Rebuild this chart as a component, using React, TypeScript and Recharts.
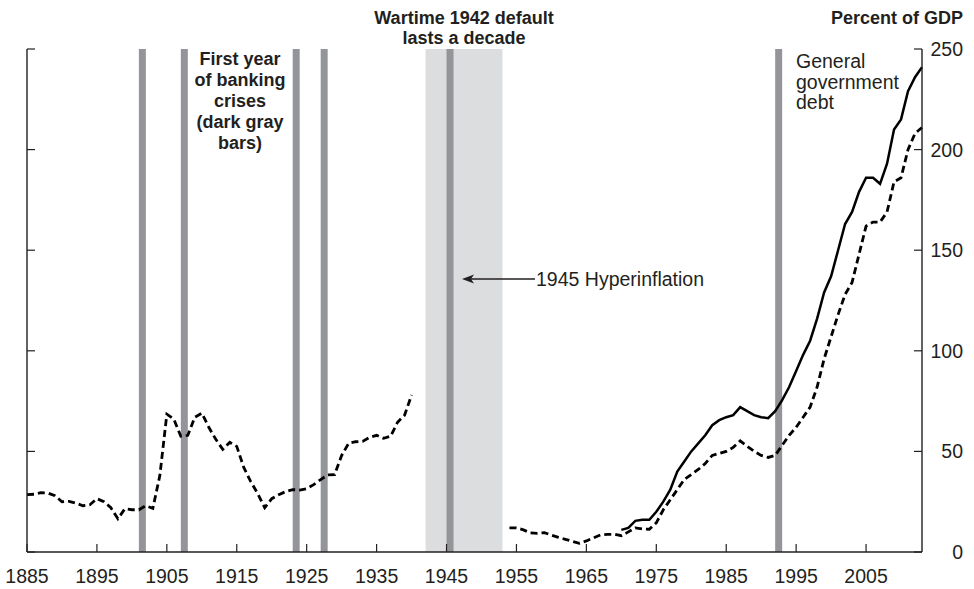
import React from 'react';
import { ComposedChart, Line, XAxis, YAxis, ReferenceArea } from 'recharts';

// Central government debt, 1885-1940 (percent of GDP)
const centralPreWarStart = 1885;
const centralPreWar = [
  28.5, 28.7, 29.5, 29.3, 28.0, 25.0, 25.2, 24.3, 23.0, 23.5,
  26.5, 25.0, 22.0, 16.5, 21.5, 21.0, 21.0, 23.0, 21.7, 38.0,
  68.5, 66.0, 57.5, 58.0, 67.0, 69.0, 62.0, 56.0, 51.0, 54.5,
  52.5, 42.0, 35.0, 29.0, 22.0, 26.5, 28.5, 30.0, 31.0, 30.8,
  31.5, 33.5, 36.0, 38.3, 38.5, 48.0, 54.0, 54.8, 55.0, 57.0,
  58.0, 56.5, 57.5, 64.5, 68.0, 78.0,
];

// Central government debt, 1954-2013
const centralPostWarStart = 1954;
const centralPostWar = [
  12, 12, 11, 9.5, 9.3, 9.6, 8.4, 7.3, 6.3, 5.3,
  4.3, 5.5, 7, 8.5, 8.8, 8.8, 8.1, 10, 12, 11.5,
  11.3, 14.5, 21, 26, 31, 36, 38.5, 41, 44, 48,
  49, 50, 52, 55.2, 52.5, 50, 48, 47, 48, 53,
  58, 62, 67, 72, 82, 96, 107, 118, 128, 134,
  148, 162, 164, 164, 169, 184, 186, 200, 208, 211,
];

// General government debt, 1970-2013
const generalGovStart = 1970;
const generalGov = [
  11, 12, 15.5, 16, 16, 20, 25, 31, 40, 45,
  50, 54, 58, 63, 65.5, 67, 68, 72, 70, 68,
  67, 66.5, 70, 75.5, 82, 90, 98, 105, 116, 129,
  137, 150, 163, 169, 179, 186, 186, 183, 193, 210,
  215, 229, 236, 241,
];

const xTicks = [1885, 1895, 1905, 1915, 1925, 1935, 1945, 1955, 1965, 1975, 1985, 1995, 2005];
const yTicks = [0, 50, 100, 150, 200, 250];
const bankingCrisisYears = [1901, 1907, 1923, 1927, 1945, 1992];
const wartimeDefault = [1942, 1953];
const firstYear = 1885;
const lastYear = 2013;

const data: { year: number; central: number | null; general: number | null }[] = [];
for (let y = firstYear; y <= lastYear; y++) {
  let central: number | null = null;
  if (y - centralPreWarStart >= 0 && y - centralPreWarStart < centralPreWar.length) central = centralPreWar[y - centralPreWarStart];
  if (y - centralPostWarStart >= 0 && y - centralPostWarStart < centralPostWar.length) central = centralPostWar[y - centralPostWarStart];
  let general: number | null = null;
  if (y - generalGovStart >= 0 && y - generalGovStart < generalGov.length) general = generalGov[y - generalGovStart];
  data.push({ year: y, central, general });
}

const FONT = '"Liberation Sans", Arial, sans-serif';
const INK = '#231f20';
const DARK = '#939598';
const LIGHT = '#dcdddf';

const XTick = (props: any) => {
  const { x, y, payload } = props;
  return (
    <g>
      <line x1={x} x2={x} y1={y} y2={y - 8} stroke={INK} strokeWidth={1.2} />
      <text x={x} y={y + 31} textAnchor="middle" fontFamily={FONT} fontSize={19.5} fill={INK}>
        {payload.value}
      </text>
    </g>
  );
};

const LeftTick = (props: any) => {
  const { x, y } = props;
  return <line x1={x} x2={x + 8} y1={y} y2={y} stroke={INK} strokeWidth={1.2} />;
};

const RightTick = (props: any) => {
  const { x, y, payload } = props;
  return (
    <g>
      <line x1={x} x2={x - 8} y1={y} y2={y} stroke={INK} strokeWidth={1.2} />
      <text x={x + 41} y={y + 7} textAnchor="end" fontFamily={FONT} fontSize={19.5} fill={INK}>
        {payload.value}
      </text>
    </g>
  );
};

const Annotations = () => (
  <svg
    width={974}
    height={589}
    style={{ position: 'absolute', left: 0, top: 0, pointerEvents: 'none' }}
  >
    <g fontFamily={FONT} fill={INK}>
      <text x={464} y={24} textAnchor="middle" fontSize={18} fontWeight="bold">Wartime 1942 default</text>
      <text x={464} y={44} textAnchor="middle" fontSize={18} fontWeight="bold">lasts a decade</text>
      <text x={963} y={24} textAnchor="end" fontSize={18} fontWeight="bold">Percent of GDP</text>
      <text x={240} y={65} textAnchor="middle" fontSize={18} fontWeight="bold">First year</text>
      <text x={240} y={86} textAnchor="middle" fontSize={18} fontWeight="bold">of banking</text>
      <text x={240} y={107} textAnchor="middle" fontSize={18} fontWeight="bold">crises</text>
      <text x={240} y={128} textAnchor="middle" fontSize={18} fontWeight="bold">(dark gray</text>
      <text x={240} y={149} textAnchor="middle" fontSize={18} fontWeight="bold">bars)</text>
      <text x={796} y={68} fontSize={19.5}>General</text>
      <text x={796} y={88.5} fontSize={19.5}>government</text>
      <text x={796} y={109} fontSize={19.5}>debt</text>
      <line x1={470} x2={535} y1={279} y2={279} stroke={INK} strokeWidth={1.3} />
      <path d="M462,279 L474,274.5 L471,279 L474,283.5 Z" fill={INK} />
      <text x={536} y={286} fontSize={19.5}>1945 Hyperinflation</text>
    </g>
  </svg>
);

export default function App() {
  return (
    <div style={{ position: 'absolute', left: 0, top: 0, width: 974, height: 589 }}>
      <ComposedChart
        width={974}
        height={589}
        data={data}
        margin={{ top: 49, right: 51, bottom: 36, left: 26 }}
      >
        <ReferenceArea
          yAxisId="left"
          x1={wartimeDefault[0]}
          x2={wartimeDefault[1]}
          y1={0}
          y2={250}
          fill={LIGHT}
          fillOpacity={1}
          stroke="none"
        />
        {bankingCrisisYears.map((yr) => (
          <ReferenceArea
            key={yr}
            yAxisId="left"
            x1={yr}
            x2={yr + 1}
            y1={0}
            y2={250}
            fill={DARK}
            fillOpacity={1}
            stroke="none"
          />
        ))}
        <XAxis
          dataKey="year"
          type="number"
          domain={[firstYear, lastYear]}
          ticks={xTicks}
          height={1}
          tickSize={0}
          tickMargin={0}
          tickLine={false}
          tick={<XTick />}
          axisLine={{ stroke: INK, strokeWidth: 1.4 }}
          interval={0}
        />
        <YAxis
          yAxisId="left"
          orientation="left"
          domain={[0, 250]}
          ticks={yTicks}
          width={1}
          tickSize={0}
          tickMargin={0}
          tickLine={false}
          tick={<LeftTick />}
          axisLine={{ stroke: INK, strokeWidth: 1.4 }}
          interval={0}
        />
        <YAxis
          yAxisId="right"
          orientation="right"
          domain={[0, 250]}
          ticks={yTicks}
          width={1}
          tickSize={0}
          tickMargin={0}
          tickLine={false}
          tick={<RightTick />}
          axisLine={{ stroke: INK, strokeWidth: 1.4 }}
          interval={0}
        />
        <Line
          yAxisId="left"
          dataKey="central"
          stroke="#000"
          strokeWidth={2.8}
          strokeDasharray="7 4"
          dot={false}
          activeDot={false}
          isAnimationActive={false}
          connectNulls={false}
        />
        <Line
          yAxisId="right"
          dataKey="general"
          stroke="#000"
          strokeWidth={2.5}
          dot={false}
          activeDot={false}
          isAnimationActive={false}
          connectNulls={false}
        />
      </ComposedChart>
      <Annotations />
    </div>
  );
}
